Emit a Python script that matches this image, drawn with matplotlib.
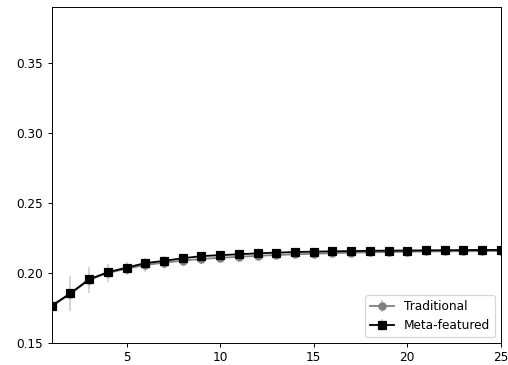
import numpy as np
import matplotlib
matplotlib.use('Agg')
import matplotlib.pyplot as plt

k = list(range(1, 26))

traditional = [0.1762, 0.1850, 0.1950, 0.2000, 0.2030, 0.2057, 0.2073, 0.2088, 0.2100, 0.2108,
               0.2115, 0.2122, 0.2128, 0.2133, 0.2137, 0.2141, 0.2144, 0.2147, 0.2149, 0.2151,
               0.2153, 0.2154, 0.2155, 0.2156, 0.2157]
traditional_err = [0.008, 0.0125, 0.0095, 0.0065, 0.0045, 0.005, 0.0045, 0.004, 0.0035, 0.003,
                   0.003, 0.0025, 0.0025, 0.002, 0.002, 0.002, 0.0018, 0.0016, 0.0015, 0.0014,
                   0.0013, 0.0012, 0.0012, 0.0011, 0.0011]

meta = [0.1766, 0.1855, 0.1955, 0.2005, 0.2038, 0.2070, 0.2086, 0.2105, 0.2120, 0.2127,
        0.2133, 0.2140, 0.2145, 0.2149, 0.2152, 0.2154, 0.2156, 0.2158, 0.2159, 0.2160,
        0.2161, 0.2162, 0.2163, 0.2164, 0.2164]
meta_err = [0.006, 0.009, 0.007, 0.005, 0.004, 0.004, 0.0035, 0.003, 0.0028, 0.0025,
            0.0022, 0.002, 0.002, 0.0018, 0.0016, 0.0015, 0.0014, 0.0013, 0.0012, 0.0011,
            0.0011, 0.001, 0.001, 0.001, 0.001]

fig = plt.figure(figsize=(508 / 87, 365 / 87), dpi=87)
ax = fig.add_axes([0.1018, 0.0603, 0.986 - 0.1018, 0.9816 - 0.0603])

ax.errorbar(k, traditional, yerr=traditional_err, color='gray', ecolor='lightgray',
            marker='o', label='Traditional')
ax.errorbar(k, meta, yerr=meta_err, color='black', ecolor='lightgray',
            marker='s', label='Meta-featured')

ax.set_xlim(1, 25)
ax.set_ylim(0.15, 0.39)
ax.set_xticks([5, 10, 15, 20, 25])
ax.set_yticks([0.15, 0.20, 0.25, 0.30, 0.35])
ax.legend(loc='lower right')

fig.savefig('out.png', dpi=87)
